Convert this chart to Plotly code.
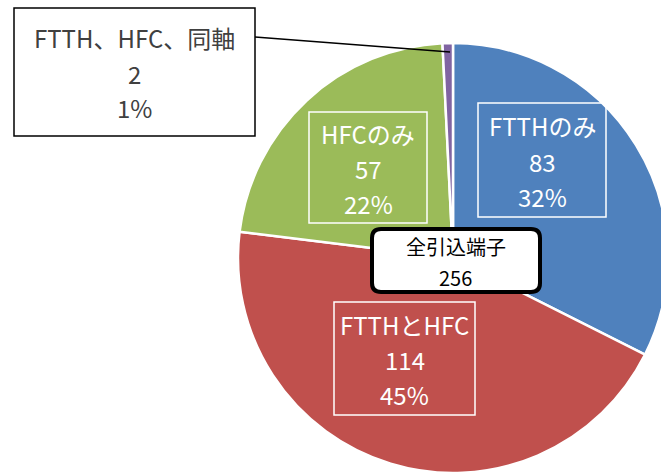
import plotly.graph_objects as go

# ---- data ----
labels = ["FTTHのみ", "FTTHとHFC", "HFCのみ", "FTTH、HFC、同軸"]
values = [83, 114, 57, 2]
colors = ["#4F81BD", "#C0504D", "#9BBB59", "#8064A2"]
total_label = "全引込端子"

W, H = 680, 480
FONT = "Noto Sans CJK JP"

def px(x):
    return x / W

def py(y):
    return 1 - y / H

total = sum(values)
pcts = [round(v / total * 100) for v in values]

fig = go.Figure(go.Pie(
    labels=labels,
    values=values,
    sort=False,
    direction="clockwise",
    rotation=0,
    textinfo="none",
    hoverinfo="label+value+percent",
    marker=dict(colors=colors, line=dict(color="white", width=2.5)),
    domain=dict(x=[238 / W, 668 / W], y=[py(473), py(43)]),
    showlegend=False,
))

# label boxes (x0, y0, x1, y1 in pixels) per slice
boxes = [(478, 103, 606, 217), (334, 302, 475, 415), (309, 112, 427, 223), (14, 8, 255, 136)]
line_offsets = [-34, 1, 36]
annotations = []
shapes = []
for i, (lab, v, p) in enumerate(zip(labels, values, pcts)):
    x0, y0, x1, y1 = boxes[i]
    outside = i == 3
    cx, cy = (x0 + x1) / 2, (y0 + y1) / 2
    shapes.append(dict(
        type="rect", xref="paper", yref="paper",
        x0=px(x0), x1=px(x1), y0=py(y1), y1=py(y0),
        line=dict(color="black" if outside else "white", width=1.5),
        fillcolor="white" if outside else "rgba(0,0,0,0)",
        layer="above",
    ))
    for txt, off in zip([lab, str(v), f"{p}%"], line_offsets):
        annotations.append(dict(
            text=txt, x=px(cx), y=py(cy + off),
            xref="paper", yref="paper", xanchor="center", yanchor="middle",
            showarrow=False,
            font=dict(family=FONT, size=24, color="#404040" if outside else "white"),
        ))

# total box in the center (rounded)
bx0, by0, bx1, by1, r = 372, 229, 540, 292, 9
path = (f"M {px(bx0 + r)},{py(by0)} L {px(bx1 - r)},{py(by0)} "
        f"Q {px(bx1)},{py(by0)} {px(bx1)},{py(by0 + r)} "
        f"L {px(bx1)},{py(by1 - r)} Q {px(bx1)},{py(by1)} {px(bx1 - r)},{py(by1)} "
        f"L {px(bx0 + r)},{py(by1)} Q {px(bx0)},{py(by1)} {px(bx0)},{py(by1 - r)} "
        f"L {px(bx0)},{py(by0 + r)} Q {px(bx0)},{py(by0)} {px(bx0 + r)},{py(by0)} Z")
shapes.append(dict(type="path", xref="paper", yref="paper", path=path,
                   line=dict(color="black", width=4), fillcolor="white", layer="above"))
for txt, yy in zip([total_label, str(total)], [247, 277]):
    annotations.append(dict(
        text=txt, x=px(456), y=py(yy), xref="paper", yref="paper",
        xanchor="center", yanchor="middle", showarrow=False,
        font=dict(family=FONT, size=20, color="black"),
    ))

# leader line for the small outside label
shapes.append(dict(type="line", xref="paper", yref="paper",
                   x0=px(255), y0=py(37), x1=px(450), y1=py(52),
                   line=dict(color="black", width=1.5), layer="above"))

fig.update_layout(
    width=W, height=H,
    margin=dict(l=0, r=0, t=0, b=0),
    paper_bgcolor="white", plot_bgcolor="white",
    annotations=annotations,
    shapes=shapes,
)

fig.write_html("out.html", config={"displayModeBar": False},
               post_script="document.body.style.margin='0';document.body.style.overflow='hidden';")
